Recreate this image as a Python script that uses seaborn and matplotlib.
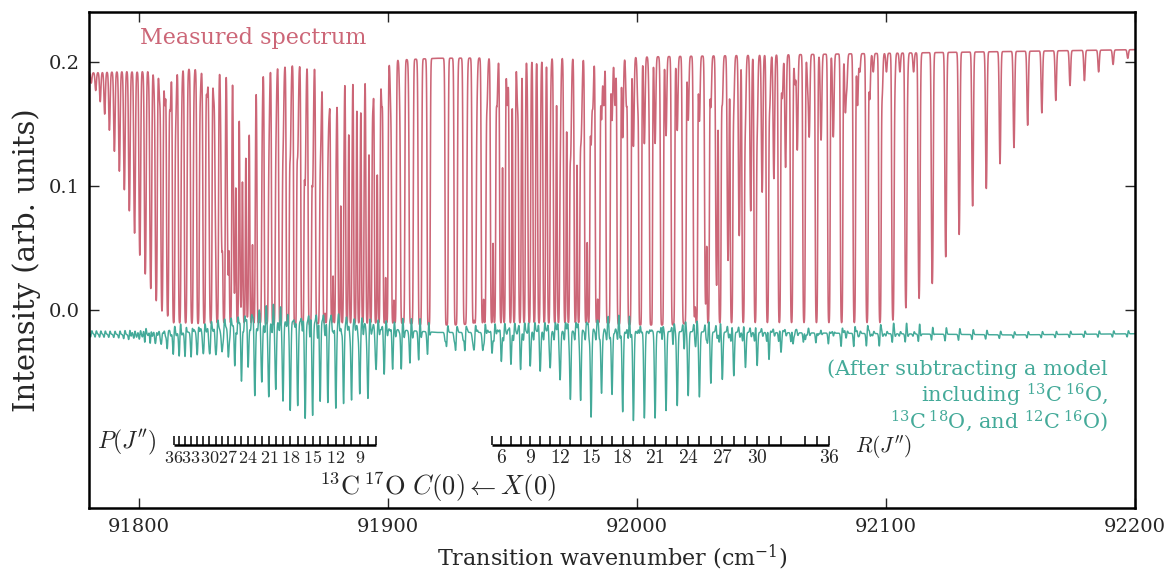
import numpy as np
import pandas as pd
import seaborn as sns
import matplotlib.pyplot as plt

# line positions (cm-1) and lowest intensity of each line
# 13C16O  P(1..52) and R(0..57)
a_p_pos = [91916.3, 91912.7, 91909.1, 91905.6, 91902.0, 91898.6, 91895.1, 91891.7, 91888.3, 91885.0,
           91881.7, 91878.5, 91875.2, 91872.1, 91868.9, 91865.8, 91862.8, 91859.7, 91856.7, 91853.8,
           91850.9, 91848.0, 91845.1, 91842.3, 91839.6, 91836.8, 91834.2, 91831.5, 91828.9, 91826.3,
           91823.8, 91821.3, 91818.8, 91816.4, 91814.0, 91811.6, 91809.3, 91807.0, 91804.8, 91802.6,
           91800.4, 91798.3, 91796.2, 91794.2, 91792.2, 91790.2, 91788.2, 91786.3, 91784.5, 91782.7,
           91780.9, 91779.1]
a_p_min = [-0.01] * 35 + [-0.004, 0.0, 0.008, 0.018, 0.03, 0.045, 0.062, 0.08, 0.097, 0.112,
                          0.128, 0.145, 0.158, 0.168, 0.177, 0.183, 0.186]
a_r_pos = [91923.7, 91927.4, 91931.2, 91935.0, 91938.9, 91942.8, 91946.7, 91950.7, 91954.7, 91958.8,
           91962.8, 91967.0, 91971.1, 91975.3, 91979.5, 91983.8, 91988.1, 91992.5, 91996.8, 92001.3,
           92005.7, 92010.2, 92014.7, 92019.3, 92023.9, 92028.6, 92033.3, 92038.0, 92042.7, 92047.5,
           92052.4, 92057.2, 92062.1, 92067.1, 92072.1, 92077.1, 92082.2, 92087.3, 92092.4, 92097.6,
           92102.8, 92108.0, 92113.3, 92118.6, 92124.0, 92129.4, 92134.8, 92140.3, 92145.8, 92151.4,
           92156.9, 92162.6, 92168.2, 92173.9, 92179.7, 92185.4, 92191.2, 92197.1]
a_r_min = [-0.01] * 40 + [-0.008, 0.002, 0.01, 0.023, 0.043, 0.061, 0.084, 0.098, 0.118, 0.131,
                          0.149, 0.159, 0.169, 0.181, 0.185, 0.192, 0.198, 0.203]

# 13C18O  P(1..45), R(0..45); b_min indexed by J
b_p_pos = [91916.5, 91913.1, 91909.7, 91906.3, 91902.9, 91899.6, 91896.4, 91893.1, 91889.9, 91886.8,
           91883.6, 91880.5, 91877.5, 91874.4, 91871.5, 91868.5, 91865.6, 91862.7, 91859.9, 91857.1,
           91854.3, 91851.5, 91848.8, 91846.2, 91843.6, 91841.0, 91838.4, 91835.9, 91833.4, 91830.9,
           91828.5, 91826.1, 91823.8, 91821.5, 91819.2, 91817.0, 91814.8, 91812.6, 91810.5, 91808.4,
           91806.3, 91804.3, 91802.3, 91800.3, 91798.4]
b_r_pos = [91923.5, 91927.1, 91930.7, 91934.3, 91938.0, 91941.7, 91945.4, 91949.2, 91953.0, 91956.8,
           91960.7, 91964.6, 91968.5, 91972.5, 91976.6, 91980.6, 91984.7, 91988.8, 91993.0, 91997.2,
           92001.4, 92005.7, 92010.0, 92014.3, 92018.7, 92023.1, 92027.6, 92032.0, 92036.6, 92041.1,
           92045.7, 92050.3, 92055.0, 92059.7, 92064.4, 92069.2, 92074.0, 92078.8, 92083.7, 92088.6,
           92093.5, 92098.5, 92103.5, 92108.6, 92113.7, 92118.8]
b_min = [-0.01] * 25 + [-0.005, 0.005, 0.02, 0.04, 0.06, 0.08, 0.095, 0.106, 0.115, 0.129, 0.141,
                        0.152, 0.155, 0.161, 0.165, 0.17, 0.175, 0.18, 0.185, 0.19, 0.195]

# 12C16O  P(1..40), R(0..40); c_min indexed by J
c_p_pos = [91916.2, 91912.4, 91908.6, 91904.9, 91901.2, 91897.6, 91894.0, 91890.4, 91886.9, 91883.4,
           91879.9, 91876.5, 91873.2, 91869.8, 91866.6, 91863.3, 91860.1, 91856.9, 91853.8, 91850.7,
           91847.6, 91844.6, 91841.7, 91838.7, 91835.8, 91833.0, 91830.1, 91827.4, 91824.6, 91821.9,
           91819.3, 91816.6, 91814.1, 91811.5, 91809.0, 91806.6, 91804.1, 91801.7, 91799.4, 91797.1]
c_r_pos = [91923.9, 91927.8, 91931.7, 91935.7, 91939.8, 91943.8, 91948.0, 91952.1, 91956.3, 91960.5,
           91964.8, 91969.1, 91973.5, 91977.8, 91982.3, 91986.7, 91991.2, 91995.8, 92000.4, 92005.0,
           92009.6, 92014.3, 92019.1, 92023.9, 92028.7, 92033.5, 92038.4, 92043.4, 92048.3, 92053.4,
           92058.4, 92063.5, 92068.6, 92073.8, 92079.0, 92084.3, 92089.5, 92094.9, 92100.2, 92105.6,
           92111.1]
c_min = [0.18, 0.175, 0.17, 0.17] + [0.165] * 21 + [0.172] * 6 + [0.182] * 5 + [0.192] * 5

# 13C17O  P(1..40), R(0..40), minimum of the residual trace
d_p_pos = [91915.9, 91912.4, 91908.9, 91905.4, 91902.0, 91898.6, 91895.3, 91892.0, 91888.7, 91885.4,
           91882.2, 91879.1, 91875.9, 91872.8, 91869.8, 91866.8, 91863.8, 91860.8, 91857.9, 91855.0,
           91852.2, 91849.4, 91846.6, 91843.9, 91841.2, 91838.5, 91835.9, 91833.3, 91830.8, 91828.3,
           91825.8, 91823.4, 91821.0, 91818.6, 91816.3, 91814.0, 91811.7, 91809.5, 91807.3, 91805.2]
d_p_min = [-0.030, -0.034, -0.038, -0.042, -0.046, -0.050, -0.054, -0.078, -0.073, -0.078,
           -0.079, -0.081, -0.075, -0.073, -0.085, -0.089, -0.078, -0.081, -0.073, -0.063,
           -0.069, -0.056, -0.064, -0.040, -0.051, -0.040, -0.038, -0.036, -0.035, -0.034,
           -0.033, -0.032, -0.032, -0.031, -0.030, -0.030, -0.028, -0.026, -0.025, -0.024]
d_r_pos = [91923.1, 91926.8, 91930.4, 91934.1, 91937.9, 91941.7, 91945.5, 91949.4, 91953.3, 91957.2,
           91961.2, 91965.2, 91969.2, 91973.3, 91977.4, 91981.6, 91985.8, 91990.0, 91994.3, 91998.6,
           92003.0, 92007.3, 92011.7, 92016.2, 92020.6, 92025.1, 92029.7, 92034.3, 92038.9, 92043.6,
           92048.3, 92053.0, 92057.8, 92062.6, 92067.5, 92072.4, 92077.3, 92082.2, 92087.2, 92092.2,
           92097.3]
d_r_min = [-0.028, -0.030, -0.030, -0.032, -0.032, -0.032, -0.037, -0.038, -0.042, -0.040,
           -0.046, -0.046, -0.056, -0.070, -0.071, -0.086, -0.067, -0.068, -0.082, -0.089,
           -0.087, -0.087, -0.081, -0.077, -0.069, -0.070, -0.059, -0.056, -0.054, -0.048,
           -0.045, -0.040, -0.035, -0.030, -0.028, -0.026, -0.025, -0.024, -0.023, -0.022, -0.022]

# continuum of the two traces
base_nu = [91778, 91850, 91920, 92000, 92100, 92202]
base_val = [0.191, 0.197, 0.203, 0.204, 0.207, 0.210]
gbase_nu = [91778, 91800, 91820, 91835, 91845, 91860, 91875, 91890, 91905, 91920, 91940, 91960,
            92000, 92050, 92100, 92150, 92202]
gbase_val = [-0.019, -0.020, -0.018, -0.014, -0.011, -0.009, -0.010, -0.012, -0.016, -0.018, -0.018,
             -0.017, -0.017, -0.018, -0.019, -0.020, -0.019]

# 13C17O assignment ticks
p_tick_j = list(range(7, 37))
r_tick_j = list(range(5, 33)) + [34, 35, 36]
p_label_j = [36, 33, 30, 27, 24, 21, 18, 15, 12, 9]
r_label_j = [6, 9, 12, 15, 18, 21, 24, 27, 30, 36]

rose = "#CC6677"
teal = "#44AA99"

nu = np.arange(91779.0, 92201.0, 0.03)
floor = -0.012
sig = 0.27


def gauss(p):
    return np.exp(-0.5 * ((nu - p) / sig) ** 2)


tau = np.zeros_like(nu)
green = np.interp(nu, gbase_nu, gbase_val)
# residual left by the subtracted model at each line (slight shift -> dispersive shape)
resid = {"a": 0.007, "b": -0.006, "c": 0.005}

for key, pos, mins in [("a", a_p_pos, a_p_min), ("a", a_r_pos, a_r_min),
                       ("b", b_p_pos, b_min[1:]), ("b", b_r_pos, b_min),
                       ("c", c_p_pos, c_min[1:]), ("c", c_r_pos, c_min)]:
    for p, m in zip(pos, mins):
        b0 = np.interp(p, base_nu, base_val)
        frac = np.clip((m - floor) / (b0 - floor), 0.003, 1.0)
        g = gauss(p)
        tau += -np.log(frac) * g
        green += resid[key] * max(1 - frac, 0.35) * 1.65 * (nu - p) / sig * g

for pos, mins in [(d_p_pos, d_p_min), (d_r_pos, d_r_min)]:
    for p, m in zip(pos, mins):
        g0 = np.interp(p, gbase_nu, gbase_val)
        b0 = np.interp(p, base_nu, base_val)
        frac = (b0 - (g0 - m) - floor) / (b0 - floor)
        g = gauss(p)
        tau += -np.log(frac) * g
        green += (m - g0) * g

red = floor + (np.interp(nu, base_nu, base_val) - floor) * np.exp(-tau)
df = pd.DataFrame({"nu": nu, "measured": red, "residual": green})

sns.set_theme(style="ticks")
plt.rcParams["font.family"] = ["DejaVu Serif"]
plt.rcParams["mathtext.fontset"] = "dejavuserif"
plt.rcParams["path.simplify"] = False

fig = plt.figure(figsize=(11.68, 5.76), dpi=100)
ax = fig.add_axes([89 / 1168, 1 - 508 / 576, 1046 / 1168, 496 / 576])
sns.lineplot(data=df, x="nu", y="measured", color=rose, lw=1.15, ax=ax, estimator=None, sort=False)
sns.lineplot(data=df, x="nu", y="residual", color=teal, lw=1.05, ax=ax, estimator=None, sort=False)

ax.set_xlim(91780, 92200)
ax.set_ylim(-0.1595, 0.2403)
ax.set_xticks([91800, 91900, 92000, 92100, 92200], ["91800", "91900", "92000", "92100", "92200"])
ax.set_yticks([0.0, 0.1, 0.2], ["0.0", "0.1", "0.2"])
ax.tick_params(direction="in", length=7, width=1.0, top=True, right=True, labelsize=14, pad=7)
for s in ax.spines.values():
    s.set_linewidth(1.8)
    s.set_color("black")
ax.set_xlabel("Transition wavenumber (cm$^{-1}$)", fontsize=16, labelpad=5)
ax.set_ylabel("Intensity (arb. units)", fontsize=21, labelpad=5)

ax.text(91800.5, 0.219, "Measured spectrum", color=rose, fontsize=16, ha="left", va="center")
for y, s in [(-0.0475, "(After subtracting a model"),
             (-0.0690, "including $^{13}$C$\\,^{16}$O,"),
             (-0.0895, "$^{13}$C$\\,^{18}$O, and $^{12}$C$\\,^{16}$O)")]:
    ax.text(92189.2, y, s, color=teal, fontsize=15, ha="right", va="center")

# assignment combs for 13C17O
y_line, y_top, y_lab = -0.1087, -0.1015, -0.1195
p_ticks = [d_p_pos[j - 1] for j in p_tick_j]
r_ticks = [d_r_pos[j] for j in r_tick_j]
for ticks in (p_ticks, r_ticks):
    ax.plot([min(ticks), max(ticks)], [y_line, y_line], color="black", lw=1.8, solid_capstyle="butt")
    ax.vlines(ticks, y_line, y_top, color="black", lw=1.1)
for j in p_label_j:
    ax.text(d_p_pos[j - 1], y_lab, f"${j}$", fontsize=13, ha="center", va="center", math_fontfamily="cm")
for j in r_label_j:
    ax.text(d_r_pos[j], y_lab, f"${j}$", fontsize=14, ha="center", va="center", math_fontfamily="cm")
ax.text(91795.3, -0.1065, "$P(J'')$", fontsize=17, ha="center", va="center", math_fontfamily="cm")
ax.text(92099.0, -0.1105, "$R(J'')$", fontsize=15.5, ha="center", va="center", math_fontfamily="cm")
ax.text(91919.8, -0.1426, r"$^{13}\mathrm{C}\,^{17}\mathrm{O}\ C(0) \leftarrow X(0)$", fontsize=19,
        ha="center", va="center", math_fontfamily="cm")

fig.savefig("out.png", dpi=100)
